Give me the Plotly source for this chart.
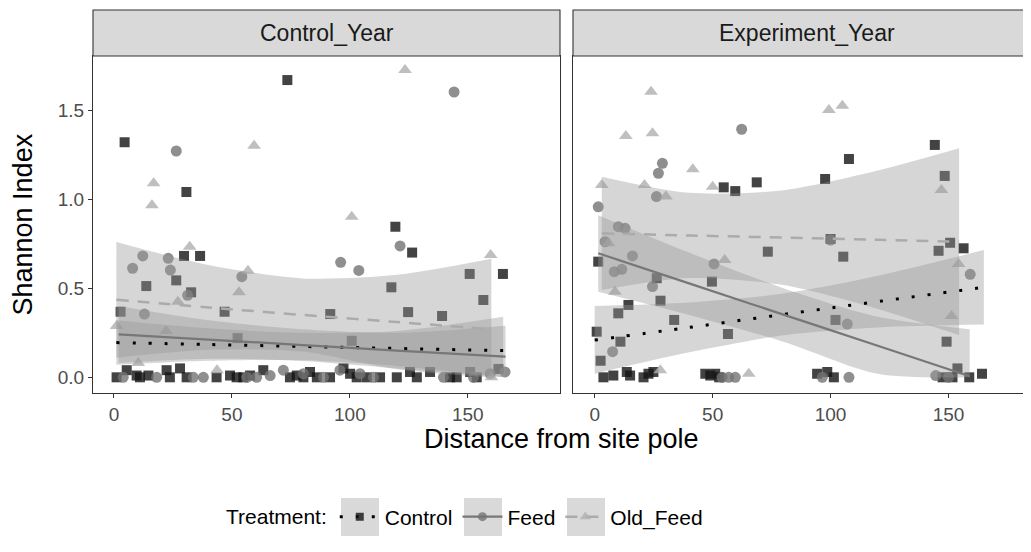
import plotly.graph_objects as go

# ---------------- data ----------------
panels = ["Control_Year", "Experiment_Year"]
treatments = ["Control", "Feed", "Old_Feed"]
x_ticks = [0, 50, 100, 150]
y_ticks = [0.0, 0.5, 1.0, 1.5]
y_tick_labels = ["0.0", "0.5", "1.0", "1.5"]

# Control_Year panel points
cy_control_x = [73.5, 4.5, 30.7, 119.3, 126.4, 29.7, 36.5, 26.4, 13.7, 32.7, 150.8, 164.9, 117.6, 156.6,
                2.8, 46.9, 91.7, 124.7, 139.1, 52.4, 100.8, 163.0,
                1.1, 5.4, 9.6, 11.0, 14.6, 22.3, 23.7, 28.0, 30.8, 43.5, 49.2, 52.0, 54.8, 57.7, 63.3,
                74.6, 77.5, 80.3, 83.1, 86.0, 91.6, 97.3, 100.1, 102.9, 107.2, 112.8, 119.9, 125.5,
                128.4, 134.0, 142.5, 145.3, 151.0, 153.8]
cy_control_y = [1.668, 1.319, 1.04, 0.845, 0.70, 0.681, 0.681, 0.544, 0.512, 0.477, 0.58, 0.58, 0.505, 0.434,
                0.368, 0.368, 0.355, 0.366, 0.344, 0.22, 0.205, 0.047,
                0.0, 0.04, 0.01, 0.0, 0.01, 0.04, 0.0, 0.05, 0.0, 0.0, 0.01, 0.0, 0.0, 0.01, 0.04,
                0.0, 0.01, 0.0, 0.03, 0.0, 0.0, 0.05, 0.02, 0.0, 0.0, 0.0, 0.0, 0.03,
                0.0, 0.03, 0.0, 0.0, 0.03, 0.0]
cy_feed_x = [144.2, 26.4, 12.2, 23.0, 7.9, 23.9, 54.2, 31.2, 12.9, 121.3, 96.1, 103.8, 165.8,
             3.9, 18.1, 33.6, 37.9, 56.3, 60.5, 66.2, 71.8, 80.3, 88.8, 95.8, 104.3, 110.0, 139.7, 152.4, 159.5]
cy_feed_y = [1.601, 1.27, 0.681, 0.668, 0.612, 0.602, 0.565, 0.46, 0.355, 0.737, 0.645, 0.60, 0.03,
             0.0, 0.0, 0.0, 0.0, 0.0, 0.0, 0.01, 0.04, 0.02, 0.0, 0.04, 0.02, 0.0, 0.0, 0.0, 0.02]
cy_old_x = [59.4, 123.4, 16.8, 16.1, 100.8, 32.1, 56.8, 53.0, 27.1, 1.1, 22.1, 159.7, 10.3, 43.7, 160.0]
cy_old_y = [1.30, 1.724, 1.089, 0.965, 0.901, 0.733, 0.598, 0.477, 0.424, 0.288, 0.26, 0.686, 0.08, 0.04, 0.0]

# Experiment_Year panel points
ey_control_x = [144.2, 107.8, 97.7, 148.4, 54.7, 59.6, 68.7, 100.0, 150.7, 145.8, 156.4, 105.4, 73.4,
                1.5, 26.3, 49.7, 27.9, 14.3, 10.0, 33.7, 0.85, 56.5, 10.9, 102.1, 149.2, 2.5,
                3.7, 7.9, 13.6, 15.0, 20.7, 22.8, 24.9, 46.9, 49.0, 51.1, 52.8, 94.3, 98.6, 101.4,
                147.5, 151.7, 153.8, 158.8, 164.2]
ey_control_y = [1.304, 1.225, 1.113, 1.13, 1.066, 1.045, 1.094, 0.776, 0.755, 0.71, 0.724, 0.677, 0.705,
                0.649, 0.556, 0.537, 0.43, 0.406, 0.359, 0.322, 0.256, 0.243, 0.2, 0.322, 0.2, 0.093,
                0.0, 0.01, 0.03, 0.01, 0.0, 0.02, 0.03, 0.02, 0.01, 0.02, 0.0, 0.02, 0.03, 0.0,
                0.0, 0.0, 0.05, 0.0, 0.02]
ey_feed_x = [62.3, 28.7, 27.0, 26.2, 1.5, 10.0, 12.9, 4.4, 16.0, 11.5, 8.3, 50.6, 24.5, 7.6, 100.0, 159.2, 107.1,
             54.0, 56.8, 59.6, 96.5, 107.8, 144.6, 150.0]
ey_feed_y = [1.392, 1.201, 1.145, 1.014, 0.957, 0.845, 0.836, 0.761, 0.681, 0.606, 0.593, 0.636, 0.509, 0.144,
             0.77, 0.578, 0.299, 0.0, 0.0, 0.0, 0.0, 0.0, 0.01, 0.0]
ey_old_x = [23.9, 13.2, 24.5, 41.6, 3.0, 21.1, 50.0, 30.2, 5.8, 55.1, 8.6, 99.3, 105.0, 147.0, 154.3, 151.3, 27.8, 65.3]
ey_old_y = [1.603, 1.354, 1.369, 1.167, 1.079, 1.079, 1.07, 1.014, 0.752, 0.658, 0.48, 1.5, 1.524, 1.051, 0.636,
            0.344, 0.04, 0.02]

# fitted lines and confidence bands
cy_control_fx = [1, 40, 80, 120, 165]
cy_control_fit = [0.195, 0.184, 0.173, 0.162, 0.15]
cy_control_hi = [0.32, 0.275, 0.25, 0.26, 0.34]
cy_control_lo = [0.07, 0.093, 0.096, 0.064, 0.0]
cy_feed_fx = [2, 40, 80, 120, 166]
cy_feed_fit = [0.241, 0.212, 0.181, 0.15, 0.116]
cy_feed_hi = [0.40, 0.32, 0.27, 0.25, 0.29]
cy_feed_lo = [0.08, 0.104, 0.092, 0.05, 0.0]
cy_old_fx = [1, 40, 80, 120, 160]
cy_old_fit = [0.435, 0.392, 0.35, 0.31, 0.27]
cy_old_hi = [0.76, 0.63, 0.555, 0.575, 0.665]
cy_old_lo = [0.11, 0.154, 0.145, 0.045, 0.0]

ey_control_fx = [0, 40, 80, 120, 165]
ey_control_fit = [0.209, 0.28, 0.353, 0.425, 0.505]
ey_control_hi = [0.40, 0.42, 0.47, 0.57, 0.714]
ey_control_lo = [0.02, 0.14, 0.236, 0.28, 0.296]
ey_feed_fx = [1.5, 40, 80, 120, 159]
ey_feed_fit = [0.696, 0.527, 0.352, 0.177, 0.006]
ey_feed_hi = [0.91, 0.70, 0.50, 0.34, 0.27]
ey_feed_lo = [0.48, 0.35, 0.20, 0.02, 0.0]
ey_old_fx = [3, 40, 80, 120, 154.5]
ey_old_fit = [0.808, 0.796, 0.784, 0.772, 0.761]
ey_old_hi = [1.126, 1.035, 1.05, 1.16, 1.285]
ey_old_lo = [0.49, 0.557, 0.518, 0.384, 0.237]

# ---------------- styles ----------------
OFF = 8                      # page body margin of the browser
W, H = 1031 - OFF, 552 - OFF
FONT = "Liberation Sans, Arial, sans-serif"
TICK, STRIP, TITLE, LEG = 19, 23, 27, 21
styles = {
    "Control": dict(symbol="square", size=10, mcolor="rgba(20,20,20,0.8)", lcolor="#000000", dash="3px,13px", width=3),
    "Feed": dict(symbol="circle", size=11, mcolor="rgba(115,115,115,0.8)", lcolor="#777777", dash="solid", width=2.2),
    "Old_Feed": dict(symbol="triangle-up", size=12, mcolor="rgba(175,175,175,0.8)", lcolor="#ABABAB", dash="12px,9px", width=2.5),
}
band_fill = "rgba(153,153,153,0.4)"

points = {
    ("Control_Year", "Control"): (cy_control_x, cy_control_y),
    ("Control_Year", "Feed"): (cy_feed_x, cy_feed_y),
    ("Control_Year", "Old_Feed"): (cy_old_x, cy_old_y),
    ("Experiment_Year", "Control"): (ey_control_x, ey_control_y),
    ("Experiment_Year", "Feed"): (ey_feed_x, ey_feed_y),
    ("Experiment_Year", "Old_Feed"): (ey_old_x, ey_old_y),
}
fits = {
    ("Control_Year", "Control"): (cy_control_fx, cy_control_fit, cy_control_lo, cy_control_hi),
    ("Control_Year", "Feed"): (cy_feed_fx, cy_feed_fit, cy_feed_lo, cy_feed_hi),
    ("Control_Year", "Old_Feed"): (cy_old_fx, cy_old_fit, cy_old_lo, cy_old_hi),
    ("Experiment_Year", "Control"): (ey_control_fx, ey_control_fit, ey_control_lo, ey_control_hi),
    ("Experiment_Year", "Feed"): (ey_feed_fx, ey_feed_fit, ey_feed_lo, ey_feed_hi),
    ("Experiment_Year", "Old_Feed"): (ey_old_fx, ey_old_fit, ey_old_lo, ey_old_hi),
}

fig = go.Figure()
axes = {"Control_Year": ("x", "y"), "Experiment_Year": ("x2", "y2")}

for p in panels:
    xa, ya = axes[p]
    for t in treatments:
        s = styles[t]
        px_, py_ = points[(p, t)]
        fig.add_trace(go.Scatter(x=px_, y=py_, mode="markers", xaxis=xa, yaxis=ya, showlegend=False,
                                 marker=dict(symbol=s["symbol"], size=s["size"], color=s["mcolor"], line=dict(width=0)),
                                 hoverinfo="skip"))
for p in panels:
    xa, ya = axes[p]
    for t in treatments:
        fx, fit, lo, hi = fits[(p, t)]
        fig.add_trace(go.Scatter(x=fx, y=hi, mode="lines", xaxis=xa, yaxis=ya, showlegend=False,
                                 line=dict(width=0, shape="spline", smoothing=0.8), hoverinfo="skip"))
        fig.add_trace(go.Scatter(x=fx, y=lo, mode="lines", xaxis=xa, yaxis=ya, showlegend=False, fill="tonexty",
                                 fillcolor=band_fill, line=dict(width=0, shape="spline", smoothing=0.8), hoverinfo="skip"))
for p in panels:
    xa, ya = axes[p]
    for t in treatments:
        s = styles[t]
        fx, fit, lo, hi = fits[(p, t)]
        fig.add_trace(go.Scatter(x=fx, y=fit, mode="lines", xaxis=xa, yaxis=ya, showlegend=False,
                                 line=dict(color=s["lcolor"], dash=s["dash"], width=s["width"], shape="spline"),
                                 hoverinfo="skip"))

# legend entries
for t in treatments:
    s = styles[t]
    fig.add_trace(go.Scatter(x=[None], y=[None], mode="lines+markers", name=t, xaxis="x", yaxis="y",
                             line=dict(color=s["lcolor"], dash=s["dash"], width=s["width"]),
                             marker=dict(symbol=s["symbol"], size=s["size"] - 2, color=s["mcolor"], line=dict(width=0))))

# geometry (target screen pixels -> paper)
def px_x(v):
    return (v - OFF) / W

def px_y(v):
    return 1 - (v - OFF) / H

L0, L1, R0, R1 = 93, 560, 573, 1031
TOP, BOT, STRIP_TOP = 56, 393, 10
xr_left = [-8.9, 189.1]
scale = (L1 - L0) / (xr_left[1] - xr_left[0])
xr_right = [-9.2, -9.2 + (R1 - R0) / scale]
yr = [-0.088, 1.803]

axis_common = dict(showgrid=False, zeroline=False, showline=True, linecolor="#333333", linewidth=1.1,
                   ticks="outside", ticklen=4, tickcolor="#333333",
                   tickfont=dict(family=FONT, size=TICK, color="#4D4D4D"))
fig.update_layout(
    width=W, height=H, margin=dict(l=0, r=0, t=0, b=0),
    paper_bgcolor="white", plot_bgcolor="white",
    font=dict(family=FONT, color="#000000"),
    xaxis=dict(domain=[px_x(L0), px_x(L1)], range=xr_left, tickvals=x_ticks, mirror=True, **axis_common),
    xaxis2=dict(domain=[px_x(R0), 1.0], range=xr_right, tickvals=x_ticks, mirror=True, anchor="y2", **axis_common),
    yaxis=dict(domain=[px_y(BOT), px_y(TOP)], range=yr, tickvals=y_ticks, ticktext=y_tick_labels, mirror=True,
               **axis_common),
    yaxis2=dict(domain=[px_y(BOT), px_y(TOP)], range=yr, anchor="x2", showticklabels=False,
                **{k: v for k, v in axis_common.items() if k not in ("ticks",)}, ticks=""),
    legend=dict(orientation="h", x=px_x(224), xanchor="left", y=px_y(517), yanchor="middle", traceorder="normal",
                title=dict(text="Treatment:", font=dict(size=LEG, family=FONT)),
                font=dict(size=LEG, family=FONT), bgcolor="rgba(0,0,0,0)", itemwidth=40, tracegroupgap=0),
    showlegend=True,
)

shapes = []
for (a, b) in [(L0, L1), (R0, R1 + 5)]:
    shapes.append(dict(type="rect", xref="paper", yref="paper", x0=px_x(a), x1=px_x(b), y0=px_y(TOP), y1=px_y(STRIP_TOP),
                       fillcolor="#D9D9D9", line=dict(color="#333333", width=1.1), layer="above"))
# grey legend key backgrounds (centred on the legend symbols)
for kc in (360, 483, 586):
    shapes.append(dict(type="rect", xref="paper", yref="paper", x0=px_x(kc - 19), x1=px_x(kc + 19),
                       y0=px_y(536), y1=px_y(498), fillcolor="#D9D9D9", line=dict(width=0), layer="below"))
fig.update_layout(shapes=shapes)

annotations = [
    dict(text=panels[0], x=px_x((L0 + L1) / 2), y=px_y((TOP + STRIP_TOP) / 2), xref="paper", yref="paper",
         showarrow=False, font=dict(size=STRIP, color="#1A1A1A", family=FONT), xanchor="center", yanchor="middle"),
    dict(text=panels[1], x=px_x((R0 + 1040) / 2), y=px_y((TOP + STRIP_TOP) / 2), xref="paper", yref="paper",
         showarrow=False, font=dict(size=STRIP, color="#1A1A1A", family=FONT), xanchor="center", yanchor="middle"),
    dict(text="Shannon Index", x=px_x(22), y=px_y((TOP + BOT) / 2), xref="paper", yref="paper", textangle=-90,
         showarrow=False, font=dict(size=TITLE, color="#000000", family=FONT), xanchor="center", yanchor="middle"),
    dict(text="Distance from site pole", x=px_x(561), y=px_y(439), xref="paper", yref="paper",
         showarrow=False, font=dict(size=TITLE, color="#000000", family=FONT), xanchor="center", yanchor="middle"),
]
fig.update_layout(annotations=annotations)

fig.write_html("out.html")
